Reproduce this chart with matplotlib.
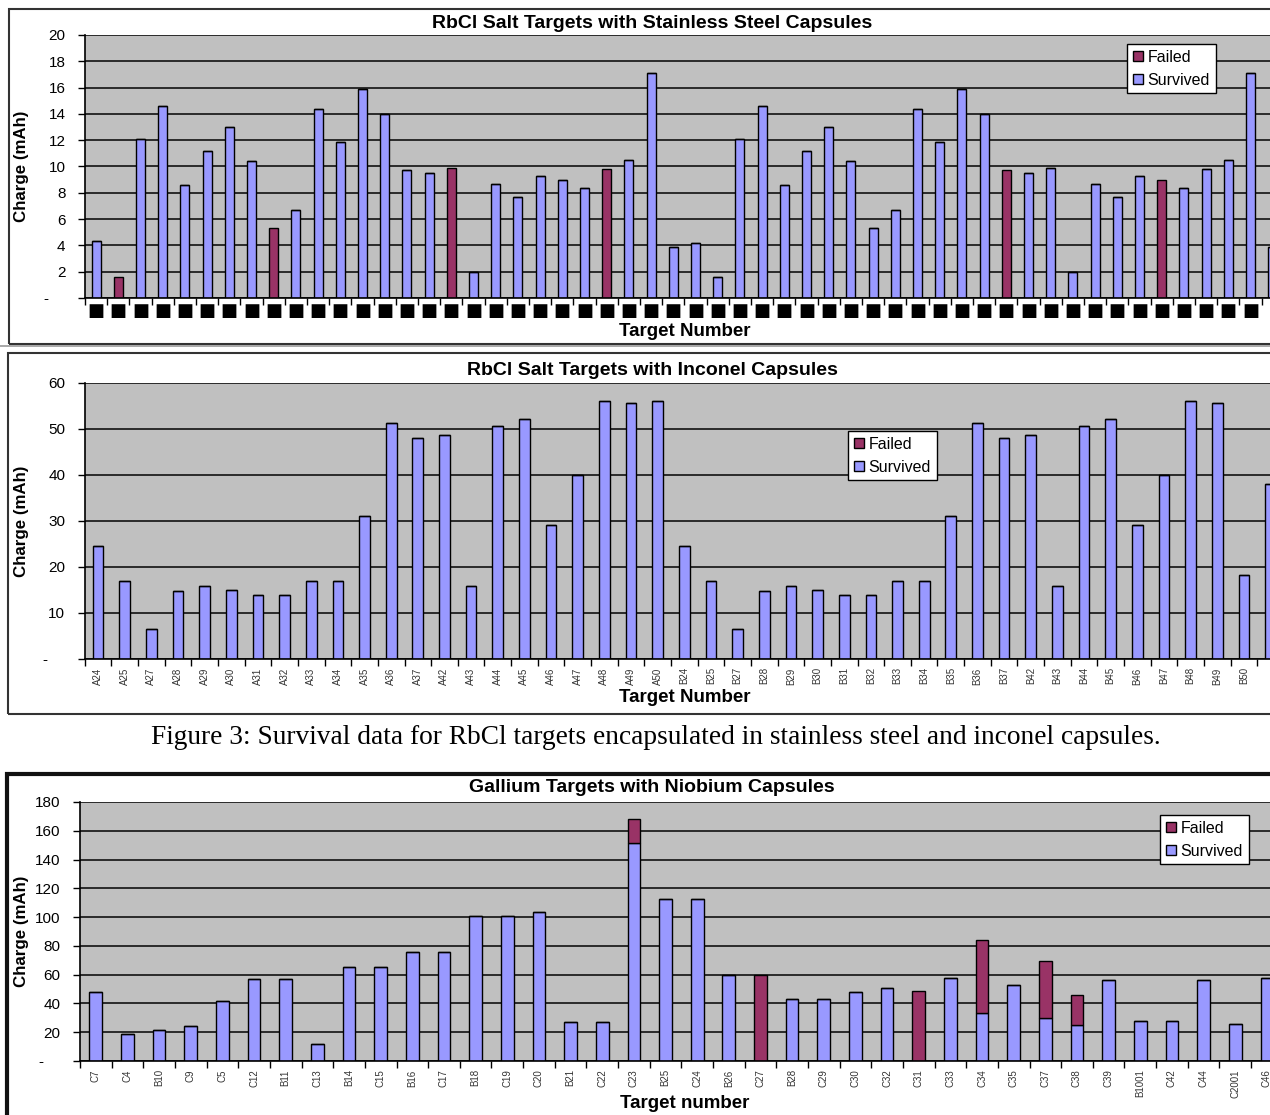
import numpy as np
import matplotlib.pyplot as plt
from matplotlib.patches import Patch, Rectangle

plt.rcParams['font.family'] = ['Liberation Sans', 'DejaVu Sans']

# =============================================================================
# DATA
# =============================================================================

# RbCl targets, stainless steel capsules (labels unreadable in source -> boxes)
ss_labels = ['\u25a0'] * 54
ss_charge = [4.3, 1.6, 12.1, 14.6, 8.6, 11.2, 13.0, 10.4, 5.3, 6.7, 14.4, 11.9, 15.9,
             14.0, 9.7, 9.5, 9.9, 2.0, 8.7, 7.7, 9.3, 9.0, 8.4, 9.8, 10.5, 17.1,
             3.9, 4.2, 1.6, 12.1, 14.6, 8.6, 11.2, 13.0, 10.4, 5.3, 6.7, 14.4, 11.9,
             15.9, 14.0, 9.7, 9.5, 9.9, 2.0, 8.7, 7.7, 9.3, 9.0, 8.4, 9.8, 10.5, 17.1, 3.9]
ss_failed_idx = [1, 8, 16, 23, 41, 48]

# RbCl targets, inconel capsules
inc_labels = ['A24', 'A25', 'A27', 'A28', 'A29', 'A30', 'A31', 'A32', 'A33', 'A34', 'A35',
              'A36', 'A37', 'A42', 'A43', 'A44', 'A45', 'A46', 'A47', 'A48', 'A49', 'A50',
              'B24', 'B25', 'B27', 'B28', 'B29', 'B30', 'B31', 'B32', 'B33', 'B34', 'B35',
              'B36', 'B37', 'B42', 'B43', 'B44', 'B45', 'B46', 'B47', 'B48', 'B49', 'B50', 'B51']
inc_charge = [24.6, 17.0, 6.6, 14.7, 15.9, 15.0, 13.9, 13.9, 17.0, 17.0, 31.0, 51.3, 48.1,
              48.8, 15.9, 50.7, 52.2, 29.2, 40.0, 56.0, 55.7, 56.0,
              24.6, 17.0, 6.6, 14.7, 15.9, 15.0, 13.9, 13.9, 17.0, 17.0, 31.0, 51.3, 48.1,
              48.8, 15.9, 50.7, 52.2, 29.2, 40.0, 56.0, 55.7, 18.2, 38.0]

# Gallium targets, niobium capsules (stacked: survived + failed)
nb_labels = ['C7', 'C4', 'B10', 'C9', 'C5', 'C12', 'B11', 'C13', 'B14', 'C15', 'B16', 'C17',
             'B18', 'C19', 'C20', 'B21', 'C22', 'C23', 'B25', 'C24', 'B26', 'C27', 'B28',
             'C29', 'C30', 'C32', 'C31', 'C33', 'C34', 'C35', 'C37', 'C38', 'C39', 'B1001',
             'C42', 'C44', 'C2001', 'C46']
nb_survived = [48.0, 18.5, 21.2, 24.2, 41.8, 57.2, 57.2, 12.0, 65.5, 65.5, 75.7, 75.7,
               100.8, 100.8, 103.4, 26.8, 26.8, 151.4, 112.6, 112.6, 59.8, 0.0, 43.4,
               43.4, 48.0, 50.8, 0.0, 57.9, 33.2, 52.6, 29.8, 24.9, 56.3, 27.7,
               27.7, 56.3, 25.8, 57.9]
nb_failed = [0, 0, 0, 0, 0, 0, 0, 0, 0, 0, 0, 0,
             0, 0, 0, 0, 0, 16.8, 0, 0, 0, 59.8, 0,
             0, 0, 0, 48.9, 0, 50.8, 0, 39.4, 21.3, 0, 0,
             0, 0, 0, 0]

C_SURV = '#9999FF'
C_FAIL = '#993366'
C_PLOT = '#C0C0C0'

# =============================================================================
# FIGURE
# =============================================================================
W, H = 1270, 1115
fig = plt.figure(figsize=(W / 100, H / 100), dpi=100)


def frame(x0, y0, y1, lw=1.5, color='#333333'):
    fig.add_artist(Rectangle((x0 / W, 1 - y1 / H), (W + 50 - x0) / W, (y1 - y0) / H,
                             transform=fig.transFigure, fill=False, edgecolor=color,
                             linewidth=lw, clip_on=False))


def panel(left, top, bottom, labels, surv, fail, ymax, ystep, title, xlabel,
          label_rot, label_size, legend_xy, title_y, xlabel_y):
    ax = fig.add_axes([left / W, 1 - bottom / H, (W - left) / W, (bottom - top) / H])
    n = len(labels)
    x = np.arange(n)
    ax.set_facecolor(C_PLOT)
    ax.set_axisbelow(True)
    ax.bar(x, surv, width=0.4, color=C_SURV, edgecolor='black', linewidth=1.0)
    ax.bar(x, fail, width=0.4, bottom=surv, color=C_FAIL, edgecolor='black', linewidth=1.0)
    ax.set_ylim(0, ymax)
    ax.set_yticks(np.arange(0, ymax + ystep / 2, ystep))
    ax.set_yticklabels(['-    '] + [f'{v:g}' for v in np.arange(ystep, ymax + ystep / 2, ystep)],
                       fontsize=11)
    ax.yaxis.grid(True, color='#111111', linewidth=1.2)
    ax.set_xticks(x)
    ax.set_xticklabels(labels, rotation=label_rot, fontsize=label_size, color='#333333')
    ax.set_xticks(np.arange(n + 1) - 0.5, minor=True)
    ax.tick_params(axis='x', which='major', length=0, pad=6)
    ax.tick_params(axis='x', which='minor', length=5, width=1, direction='out')
    ax.tick_params(axis='y', length=5, width=1, direction='out', pad=9)
    for s in ['top', 'right']:
        ax.spines[s].set_visible(False)
    for s in ['left', 'bottom']:
        ax.spines[s].set_color('black')
        ax.spines[s].set_linewidth(1.2)
    fig.text(652 / W, 1 - title_y / H, title, ha='center', va='center',
             fontsize=14, fontweight='bold')
    fig.text(685 / W, 1 - xlabel_y / H, xlabel, ha='center', va='center',
             fontsize=13.5, fontweight='bold')
    fig.text(22 / W, 1 - (top + bottom) / 2 / H, 'Charge (mAh)', rotation=90,
             ha='center', va='center', fontsize=12.2, fontweight='bold')
    handles = [Patch(facecolor=C_FAIL, edgecolor='black', label='Failed'),
               Patch(facecolor=C_SURV, edgecolor='black', label='Survived')]
    leg = ax.legend(handles=handles, loc='upper left',
                    bbox_to_anchor=(legend_xy[0] / W, 1 - legend_xy[1] / H),
                    bbox_transform=fig.transFigure, fontsize=11.5, frameon=True,
                    fancybox=False, edgecolor='black', framealpha=1,
                    handlelength=0.65, handleheight=0.65, handletextpad=0.3,
                    borderpad=0.35, labelspacing=0.5, borderaxespad=0)
    leg.get_frame().set_linewidth(1.0)
    return ax


# Panel 1: stainless steel
ss_surv = np.array(ss_charge, dtype=float)
ss_fail = np.zeros(len(ss_charge))
ss_fail[ss_failed_idx] = ss_surv[ss_failed_idx]
ss_surv[ss_failed_idx] = 0
frame(9, 9, 344)
ax1 = panel(85, 35, 298, ss_labels, ss_surv, ss_fail, 20, 2,
            'RbCl Salt Targets with Stainless Steel Capsules', 'Target Number',
            0, 13, (1127, 44), 23, 331)
ax1.set_xlim(-0.5, (W - 85) / 22.2 - 0.5)
ax1.tick_params(axis='x', which='major', pad=3)
for t in ax1.get_xticklabels():
    t.set_color('black')
    t.set_family('DejaVu Sans')

# Panel 2: inconel
fig.add_artist(plt.Line2D([0, 1], [1 - 346 / H, 1 - 346 / H], transform=fig.transFigure,
                          color='#999999', linewidth=1.2))
frame(8, 353, 714)
inc_fail = np.zeros(len(inc_charge))
ax2 = panel(84.7, 383, 659, inc_labels, np.array(inc_charge), inc_fail, 60, 10,
            'RbCl Salt Targets with Inconel Capsules', 'Target Number',
            90, 7, (848, 431), 371, 698)
ax2.set_xlim(-0.5, (W - 84.7) / 26.65 - 0.5)

# Caption
fig.text(656 / W, 1 - 737 / H,
         'Figure 3: Survival data for RbCl targets encapsulated in stainless steel and inconel capsules.',
         ha='center', va='center', fontsize=19.7, family=['Liberation Serif', 'DejaVu Serif'])

# Panel 3: niobium
frame(7, 774, 1200, lw=3, color='#111111')
ax3 = panel(80, 802, 1061, nb_labels, np.array(nb_survived), np.array(nb_failed), 180, 20,
            'Gallium Targets with Niobium Capsules', 'Target number',
            90, 7, (1160, 815), 788, 1103)
ax3.set_xlim(-0.5, (W - 80) / 31.65 - 0.5)

fig.savefig('out.png', dpi=100)
